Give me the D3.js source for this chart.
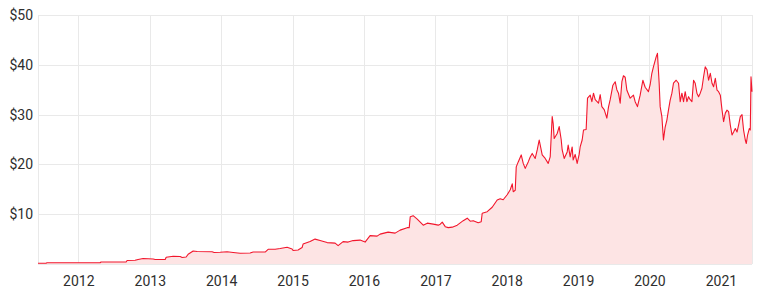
<!DOCTYPE html>
<html><head><meta charset="utf-8">
<script src="https://cdn.jsdelivr.net/npm/d3@7"></script>
<style>
body{margin:0;background:#fff;}
svg text{font-family:Roboto,Inter,"Open Sans",sans-serif;}
</style></head>
<body><svg id="c" width="758" height="296"></svg>
<script>
// decimal-year dates and prices
const dates = [2011.435,2011.547,2011.561,2012.304,2012.318,2012.668,2012.682,2012.794,2012.836,2012.906,2013.047,2013.075,2013.215,2013.229,2013.327,2013.425,2013.453,2013.509,2013.537,2013.607,2013.663,2013.873,2013.901,2013.985,2014.083,2014.168,2014.266,2014.406,2014.448,2014.616,2014.658,2014.756,2014.826,2014.924,2014.994,2015.008,2015.078,2015.134,2015.148,2015.246,2015.316,2015.386,2015.485,2015.597,2015.639,2015.709,2015.779,2015.849,2015.947,2016.017,2016.087,2016.185,2016.227,2016.339,2016.437,2016.507,2016.605,2016.634,2016.648,2016.689,2016.746,2016.830,2016.886,2016.970,2017.040,2017.068,2017.096,2017.138,2017.180,2017.236,2017.306,2017.390,2017.446,2017.488,2017.530,2017.600,2017.642,2017.656,2017.726,2017.796,2017.866,2017.908,2017.950,2018.006,2018.049,2018.077,2018.091,2018.119,2018.133,2018.161,2018.203,2018.231,2018.259,2018.301,2018.329,2018.357,2018.399,2018.427,2018.455,2018.497,2018.539,2018.581,2018.609,2018.637,2018.651,2018.665,2018.707,2018.735,2018.763,2018.777,2018.805,2018.847,2018.861,2018.889,2018.917,2018.931,2018.959,2018.987,2019.015,2019.029,2019.057,2019.076,2019.113,2019.132,2019.170,2019.193,2019.216,2019.240,2019.286,2019.310,2019.333,2019.366,2019.403,2019.426,2019.450,2019.488,2019.520,2019.543,2019.566,2019.590,2019.614,2019.636,2019.660,2019.684,2019.730,2019.776,2019.800,2019.832,2019.870,2019.908,2019.940,2019.986,2020.010,2020.034,2020.056,2020.094,2020.112,2020.136,2020.150,2020.174,2020.196,2020.220,2020.244,2020.266,2020.290,2020.314,2020.336,2020.374,2020.407,2020.430,2020.454,2020.477,2020.500,2020.524,2020.547,2020.570,2020.594,2020.617,2020.640,2020.664,2020.687,2020.710,2020.734,2020.757,2020.780,2020.805,2020.827,2020.851,2020.875,2020.897,2020.921,2020.945,2020.967,2020.991,2021.015,2021.037,2021.061,2021.085,2021.107,2021.131,2021.155,2021.177,2021.201,2021.225,2021.247,2021.271,2021.295,2021.317,2021.341,2021.355,2021.373,2021.397,2021.411,2021.421,2021.435];
const prices = [0.15,0.15,0.25,0.25,0.4,0.4,0.7,0.75,0.9,1.1,1.0,0.9,0.9,1.35,1.55,1.5,1.3,1.4,1.95,2.6,2.5,2.45,2.3,2.35,2.45,2.3,2.15,2.2,2.4,2.4,2.95,2.95,3.1,3.35,3.0,2.7,2.8,3.3,4.0,4.5,5.0,4.7,4.3,4.2,3.7,4.5,4.4,4.7,4.8,4.4,5.7,5.6,6.0,6.4,6.2,6.8,7.3,7.3,9.5,9.7,9.0,7.8,8.2,8.0,7.8,8.0,8.4,7.5,7.3,7.4,7.8,8.7,9.2,8.6,8.7,8.3,8.5,10.2,10.5,11.4,12.85,13.1,12.9,13.9,14.9,16.1,14.5,14.8,19.5,20.5,21.9,20.2,19.2,20.5,21.5,22.2,21.2,22.9,24.9,21.9,21.2,20.2,21.5,29.6,28.2,25.2,26.2,27.6,25.0,22.9,21.2,22.5,23.9,21.5,23.5,20.9,22.0,20.2,22.0,23.5,24.9,26.9,27.0,33.3,33.9,32.6,34.3,33.0,32.3,34.0,31.6,31.0,29.3,31.5,33.0,35.9,36.6,35.0,34.3,32.3,36.6,37.8,37.5,34.9,33.3,33.9,32.6,31.6,33.9,36.9,35.5,34.6,36.0,38.3,39.6,41.6,42.3,36.3,31.6,29.6,24.9,27.5,28.9,30.9,32.9,34.3,36.3,36.9,36.3,32.6,34.3,32.6,34.6,32.6,33.6,33.0,32.6,36.9,36.3,34.3,33.6,34.3,35.3,37.6,39.6,39.0,36.9,38.3,36.3,35.6,37.3,34.9,34.6,33.9,30.9,28.6,30.3,30.9,30.6,27.9,25.9,26.5,27.2,26.5,27.9,29.6,30.0,26.9,24.9,24.2,25.9,27.2,26.9,37.6,34.6];
const yTicks = [10,20,30,40,50];
const xTickYears = [2012,2013,2014,2015,2016,2017,2018,2019,2020,2021];

function toDate(t){
  const y = Math.floor(t);
  const a = new Date(y,0,1), b = new Date(y+1,0,1);
  return new Date(a.getTime() + (t - y)*(b - a));
}
const data = dates.map((t,i)=>({d:toDate(t), v:prices[i]}));

const svg = d3.select("#c");
const m = {l:38, r:6, t:15, b:32};
const W = 758, H = 296;
const x = d3.scaleTime().domain([data[0].d, data[data.length-1].d]).range([m.l, W-m.r]);
const y = d3.scaleLinear().domain([0,50]).range([H-m.b, m.t]);

const grid = svg.append("g").attr("stroke","#e9e9e9").attr("stroke-width",1);
[0].concat(yTicks).forEach(v=>{
  grid.append("line").attr("x1",m.l).attr("x2",W-m.r).attr("y1",Math.round(y(v))+0.5).attr("y2",Math.round(y(v))+0.5);
});
xTickYears.map(yr=>new Date(yr,0,1)).concat([x.domain()[0], x.domain()[1]]).forEach(d=>{
  const px = Math.round(x(d))+0.5;
  grid.append("line").attr("x1",px).attr("x2",px).attr("y1",m.t).attr("y2",H-m.b);
});

svg.append("path").datum(data)
  .attr("fill","#fde4e4")
  .attr("d", d3.area().x(d=>x(d.d)).y0(y(0)).y1(d=>y(d.v)));
svg.append("path").datum(data)
  .attr("fill","none").attr("stroke","#f2162c").attr("stroke-width",1.1).attr("stroke-linejoin","round")
  .attr("d", d3.line().x(d=>x(d.d)).y(d=>y(d.v)));

const ya = d3.axisLeft(y).tickValues(yTicks).tickFormat(v=>"$"+v).tickSize(0).tickPadding(5);
const gy = svg.append("g").attr("transform",`translate(${m.l},0)`).call(ya);
gy.select(".domain").remove();
gy.selectAll("text").attr("font-size",14).attr("fill","#2e2e2e");

const xa = d3.axisBottom(x).tickValues(xTickYears.map(yr=>new Date(yr,0,1))).tickFormat(d3.timeFormat("%Y")).tickSize(0).tickPadding(12);
const gx = svg.append("g").attr("transform",`translate(0,${H-m.b})`).call(xa);
gx.select(".domain").remove();
gx.selectAll("text").attr("font-size",14).attr("fill","#2e2e2e");
</script></body></html>
